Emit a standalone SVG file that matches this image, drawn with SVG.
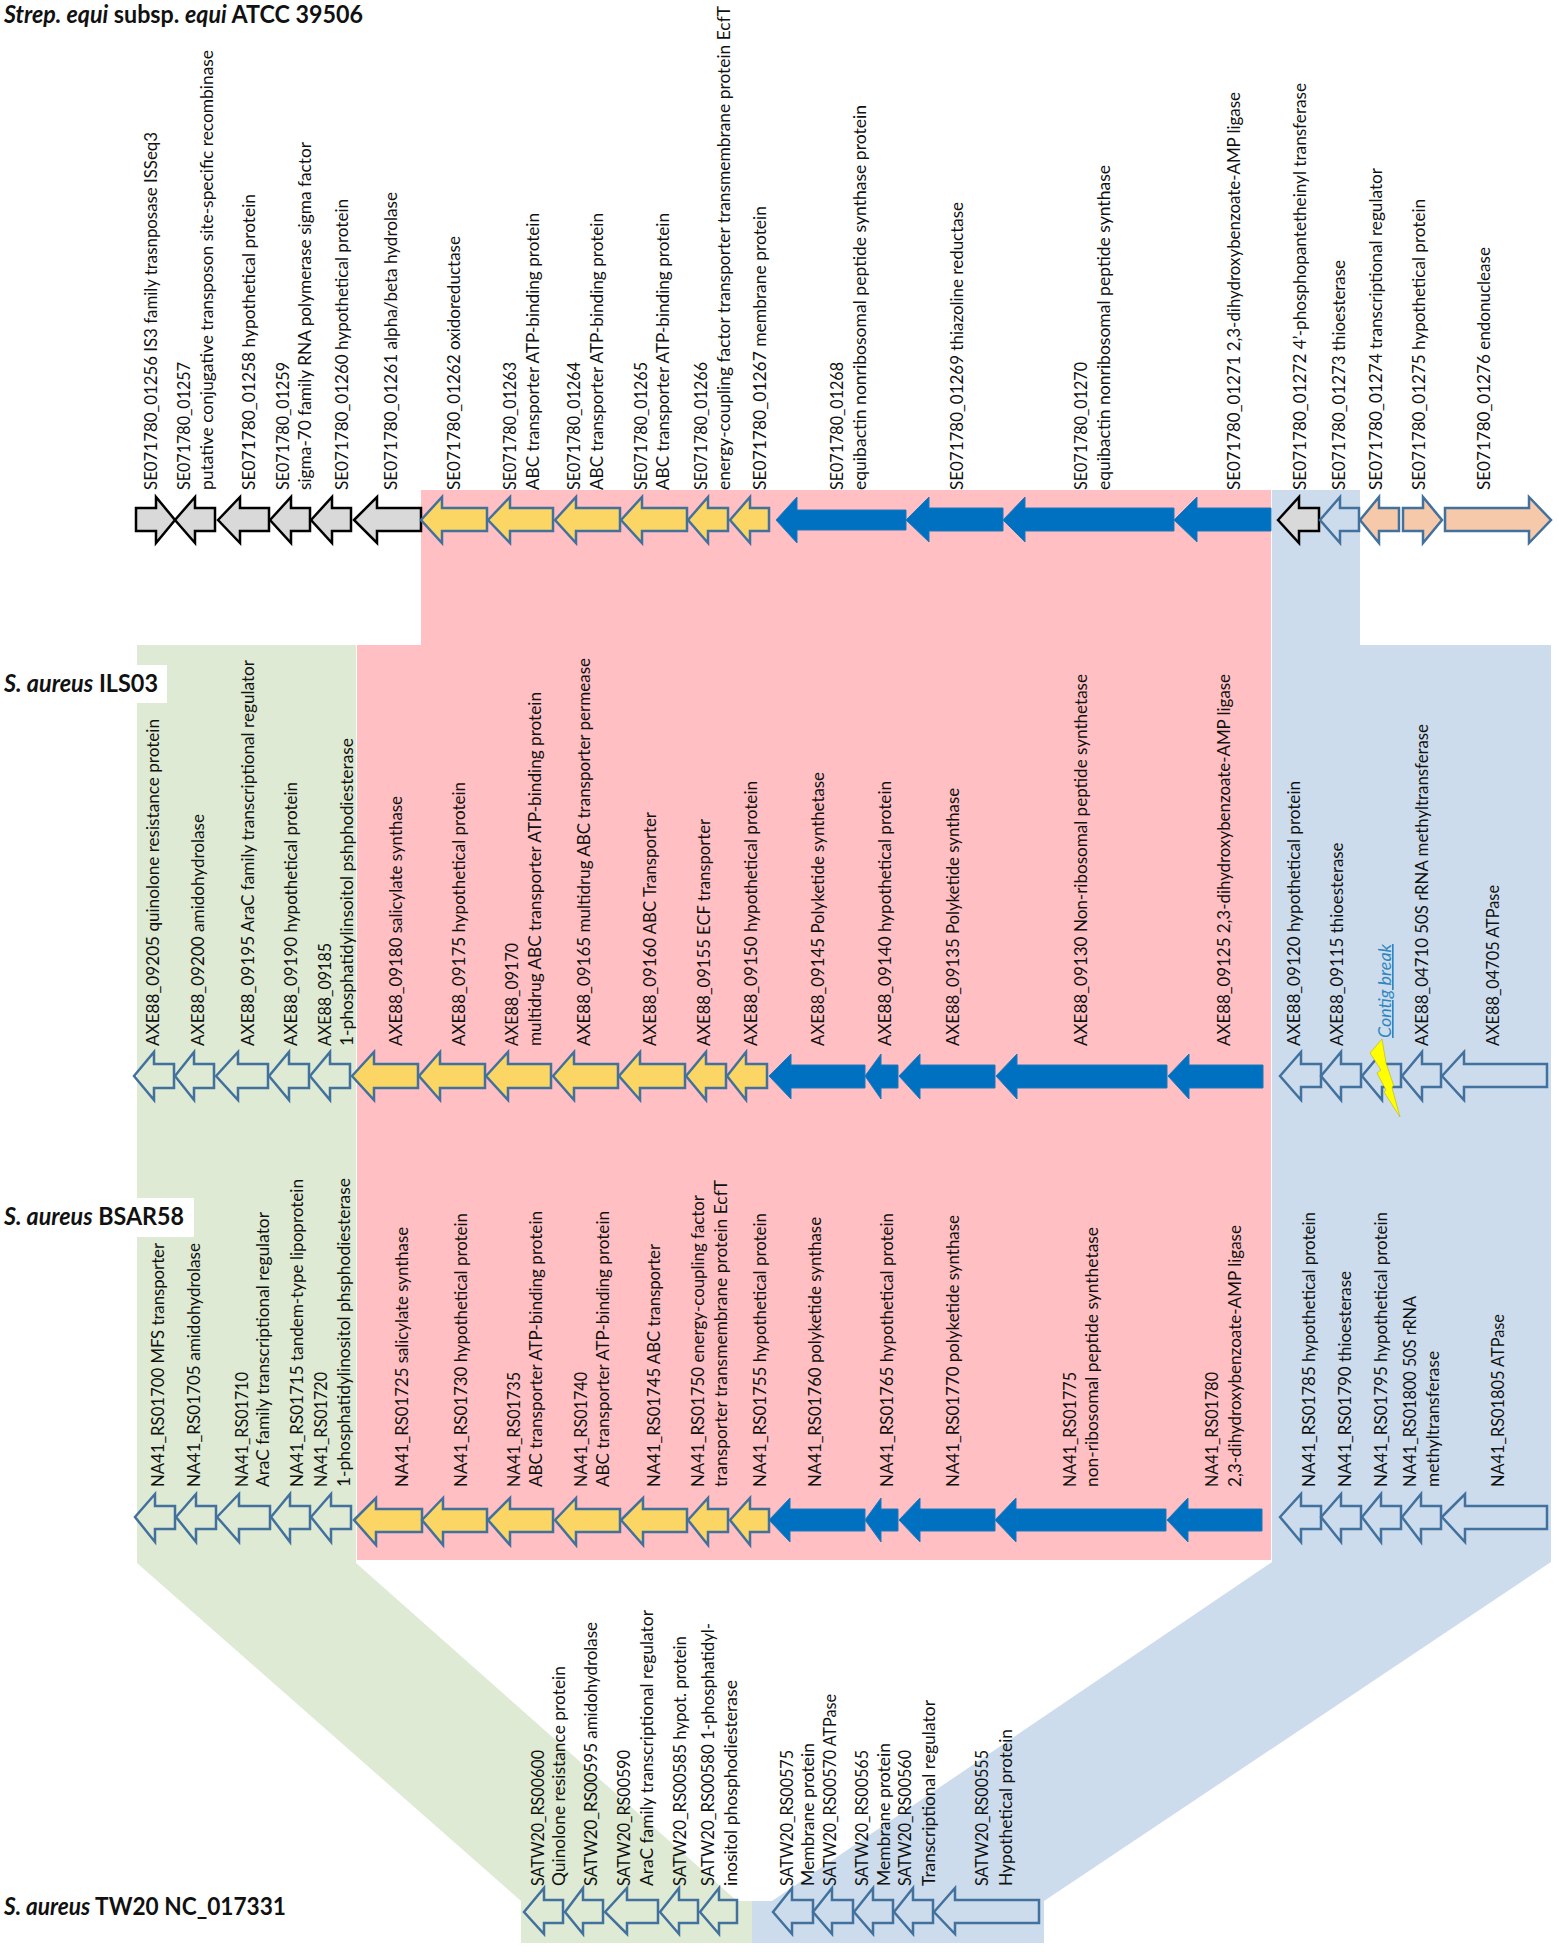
<svg xmlns="http://www.w3.org/2000/svg" width="1559" height="1952" viewBox="0 0 1559 1952">
<style>
text{font-family:Lato,"Liberation Sans",Arial,sans-serif;fill:#111}
.l{font-size:16.5px}
.t{font-size:24px;font-weight:bold}
.i{font-style:italic}
polygon{stroke-linejoin:miter}
.k{fill:#D9D9D9;stroke:#000;stroke-width:2.5}
.y{fill:#FBD665;stroke:#41719C;stroke-width:2.5}
.b{fill:#0070C0;stroke:#1F78BC;stroke-width:1}
.o{fill:none;stroke:#41719C;stroke-width:2.5}
.p{fill:#F5C9A9;stroke:#41719C;stroke-width:2.5}
.c{font-size:16.5px;font-style:italic;fill:#2E86C1;text-decoration:underline}
</style>
<rect width="1559" height="1952" fill="#fff"/>
<g id="connectors">
<polygon fill="#DEEAD3" points="137,645 356,645 356,1563 737,1901 752,1901 752,1943 521,1943 521,1901 137,1563"/>
<polygon fill="#CCDCEC" points="1272,490 1360,490 1360,645 1551,645 1551,1562 1044,1901 1044,1943 752,1943 752,1901 772,1901 1272,1562"/>
<polygon fill="#FFBFC3" points="421,490 1271,490 1271,1560 357,1560 357,645 421,645"/>
</g>
<g id="labels-bg">
<rect x="0" y="665" width="167" height="38" fill="#fff"/>
<rect x="0" y="1198" width="194" height="39" fill="#fff"/>
</g>
<g id="title-strep"><text class="t" x="4" y="23" textLength="359" lengthAdjust="spacingAndGlyphs"><tspan class="i">Strep. equi</tspan> subsp. <tspan class="i">equi</tspan> ATCC 39506</text></g>
<g id="title-ils03"><text class="t" x="4" y="692" textLength="154" lengthAdjust="spacingAndGlyphs"><tspan class="i">S. aureus</tspan> ILS03</text></g>
<g id="title-bsar58"><text class="t" x="4" y="1225" textLength="180" lengthAdjust="spacingAndGlyphs"><tspan class="i">S. aureus</tspan> BSAR58</text></g>
<g id="title-tw20"><text class="t" x="4" y="1915" textLength="282" lengthAdjust="spacingAndGlyphs"><tspan class="i">S. aureus</tspan> TW20 NC_017331</text></g>

<g id="se-01256"><polygon class="k" points="136,508 156,508 156,497 175,520 156,543 156,531 136,531"/><text class="l" transform="translate(157,490) rotate(-90)" textLength="358" lengthAdjust="spacingAndGlyphs">SE071780_01256 IS3 family trasnposase ISSeq3</text></g>
<g id="se-01257"><polygon class="k" points="175,520 195,497 195,508 215,508 215,531 195,531 195,543"/><text class="l" transform="translate(190,490) rotate(-90)" textLength="128" lengthAdjust="spacingAndGlyphs">SE071780_01257</text><text class="l" transform="translate(213,490) rotate(-90)" textLength="440" lengthAdjust="spacingAndGlyphs">putative conjugative transposon site-specific recombinase</text></g>
<g id="se-01258"><polygon class="k" points="218,520 240,497 240,508 269,508 269,531 240,531 240,543"/><text class="l" transform="translate(255,490) rotate(-90)" textLength="296" lengthAdjust="spacingAndGlyphs">SE071780_01258  hypothetical protein</text></g>
<g id="se-01259"><polygon class="k" points="270,520 291,497 291,508 310,508 310,531 291,531 291,543"/><text class="l" transform="translate(289,490) rotate(-90)" textLength="128" lengthAdjust="spacingAndGlyphs">SE071780_01259</text><text class="l" transform="translate(311,490) rotate(-90)" textLength="348" lengthAdjust="spacingAndGlyphs">sigma-70 family RNA polymerase sigma factor</text></g>
<g id="se-01260"><polygon class="k" points="311,520 332,497 332,508 351,508 351,531 332,531 332,543"/><text class="l" transform="translate(348,490) rotate(-90)" textLength="291" lengthAdjust="spacingAndGlyphs">SE071780_01260 hypothetical protein</text></g>
<g id="se-01261"><polygon class="k" points="354,520 377,497 377,508 421,508 421,531 377,531 377,543"/><text class="l" transform="translate(397,490) rotate(-90)" textLength="298" lengthAdjust="spacingAndGlyphs">SE071780_01261 alpha/beta hydrolase</text></g>
<g id="se-01262"><polygon class="y" points="421,520 442,497 442,508 487,508 487,531 442,531 442,543"/><text class="l" transform="translate(460,490) rotate(-90)" textLength="254" lengthAdjust="spacingAndGlyphs">SE071780_01262 oxidoreductase</text></g>
<g id="se-01263"><polygon class="y" points="488,520 510,497 510,508 553,508 553,531 510,531 510,543"/><text class="l" transform="translate(516,490) rotate(-90)" textLength="128" lengthAdjust="spacingAndGlyphs">SE071780_01263</text><text class="l" transform="translate(539,490) rotate(-90)" textLength="277" lengthAdjust="spacingAndGlyphs">ABC transporter ATP-binding protein</text></g>
<g id="se-01264"><polygon class="y" points="555,520 576,497 576,508 620,508 620,531 576,531 576,543"/><text class="l" transform="translate(580,490) rotate(-90)" textLength="128" lengthAdjust="spacingAndGlyphs">SE071780_01264</text><text class="l" transform="translate(602.5,490) rotate(-90)" textLength="277" lengthAdjust="spacingAndGlyphs">ABC transporter ATP-binding protein</text></g>
<g id="se-01265"><polygon class="y" points="621,520 642,497 642,508 687,508 687,531 642,531 642,543"/><text class="l" transform="translate(647,490) rotate(-90)" textLength="128" lengthAdjust="spacingAndGlyphs">SE071780_01265</text><text class="l" transform="translate(669,490) rotate(-90)" textLength="277" lengthAdjust="spacingAndGlyphs">ABC transporter ATP-binding protein</text></g>
<g id="se-01266"><polygon class="y" points="688,520 708,497 708,508 728,508 728,531 708,531 708,543"/><text class="l" transform="translate(707,490) rotate(-90)" textLength="128" lengthAdjust="spacingAndGlyphs">SE071780_01266</text><text class="l" transform="translate(730,490) rotate(-90)" textLength="484" lengthAdjust="spacingAndGlyphs">energy-coupling factor transporter transmembrane protein EcfT</text></g>
<g id="se-01267"><polygon class="y" points="730,520 750,497 750,508 769,508 769,531 750,531 750,543"/><text class="l" transform="translate(766,490) rotate(-90)" textLength="284" lengthAdjust="spacingAndGlyphs">SE071780_01267  membrane protein</text></g>
<g id="se-01268"><polygon class="b" points="776,520 797,497 797,510 906,510 906,530 797,530 797,543"/><text class="l" transform="translate(842.6,490) rotate(-90)" textLength="128" lengthAdjust="spacingAndGlyphs">SE071780_01268</text><text class="l" transform="translate(866,490) rotate(-90)" textLength="385" lengthAdjust="spacingAndGlyphs">equibactin nonribosomal peptide synthase protein</text></g>
<g id="se-01269"><polygon class="b" points="906,520 929,497 929,508 1003,508 1003,531 929,531 929,542"/><text class="l" transform="translate(963,490) rotate(-90)" textLength="288" lengthAdjust="spacingAndGlyphs">SE071780_01269 thiazoline reductase</text></g>
<g id="se-01270"><polygon class="b" points="1003,520 1025,497 1025,508 1174,508 1174,531 1025,531 1025,542"/><text class="l" transform="translate(1087,490) rotate(-90)" textLength="128" lengthAdjust="spacingAndGlyphs">SE071780_01270</text><text class="l" transform="translate(1110,490) rotate(-90)" textLength="325" lengthAdjust="spacingAndGlyphs">equibactin nonribosomal peptide synthase</text></g>
<g id="se-01271"><polygon class="b" points="1174,520 1197,497 1197,508 1271,508 1271,531 1197,531 1197,542"/><text class="l" transform="translate(1240,490) rotate(-90)" textLength="398" lengthAdjust="spacingAndGlyphs">SE071780_01271 2,3-dihydroxybenzoate-AMP ligase</text></g>
<g id="se-01272"><polygon class="k" points="1278,520 1299,497 1299,508 1319,508 1319,531 1299,531 1299,543"/><text class="l" transform="translate(1306,490) rotate(-90)" textLength="407" lengthAdjust="spacingAndGlyphs">SE071780_01272 4’-phosphopantetheinyl transferase</text></g>
<g id="se-01273"><polygon class="o" points="1320,520 1340,497 1340,508 1359,508 1359,531 1340,531 1340,543"/><text class="l" transform="translate(1345,490) rotate(-90)" textLength="230" lengthAdjust="spacingAndGlyphs">SE071780_01273 thioesterase</text></g>
<g id="se-01274"><polygon class="p" points="1360,520 1379,497 1379,508 1399,508 1399,531 1379,531 1379,543"/><text class="l" transform="translate(1382,490) rotate(-90)" textLength="322" lengthAdjust="spacingAndGlyphs">SE071780_01274 transcriptional regulator</text></g>
<g id="se-01275"><polygon class="p" points="1403,508 1423,508 1423,497 1442,520 1423,543 1423,531 1403,531"/><text class="l" transform="translate(1424.5,490) rotate(-90)" textLength="291" lengthAdjust="spacingAndGlyphs">SE071780_01275 hypothetical protein</text></g>
<g id="se-01276"><polygon class="p" points="1445,508 1529,508 1529,497 1551,520 1529,543 1529,531 1445,531"/><text class="l" transform="translate(1490,490) rotate(-90)" textLength="243" lengthAdjust="spacingAndGlyphs">SE071780_01276 endonuclease</text></g>

<g id="axe-09205"><polygon class="o" points="134,1076 154,1052 154,1064 174,1064 174,1088 154,1088 154,1100"/><text class="l" transform="translate(159,1046) rotate(-90)" textLength="327" lengthAdjust="spacingAndGlyphs">AXE88_09205 quinolone resistance protein</text></g>
<g id="axe-09200"><polygon class="o" points="175,1076 194,1052 194,1064 214,1064 214,1088 194,1088 194,1100"/><text class="l" transform="translate(203.5,1046) rotate(-90)" textLength="232" lengthAdjust="spacingAndGlyphs">AXE88_09200 amidohydrolase</text></g>
<g id="axe-09195"><polygon class="o" points="216,1076 238,1052 238,1064 268,1064 268,1088 238,1088 238,1100"/><text class="l" transform="translate(253.6,1046) rotate(-90)" textLength="386" lengthAdjust="spacingAndGlyphs">AXE88_09195 AraC family transcriptional regulator</text></g>
<g id="axe-09190"><polygon class="o" points="269,1076 289,1052 289,1064 309,1064 309,1088 289,1088 289,1100"/><text class="l" transform="translate(296.5,1046) rotate(-90)" textLength="264" lengthAdjust="spacingAndGlyphs">AXE88_09190 hypothetical protein</text></g>
<g id="axe-09185"><polygon class="o" points="310,1076 330,1052 330,1064 350,1064 350,1088 330,1088 330,1100"/><text class="l" transform="translate(331,1046) rotate(-90)" textLength="103" lengthAdjust="spacingAndGlyphs">AXE88_09185</text><text class="l" transform="translate(353,1046) rotate(-90)" textLength="308" lengthAdjust="spacingAndGlyphs">1-phosphatidylinsoitol pshphodiesterase</text></g>
<g id="axe-09180"><polygon class="y" points="352,1076 374,1052 374,1064 418,1064 418,1088 374,1088 374,1100"/><text class="l" transform="translate(401.5,1046) rotate(-90)" textLength="250" lengthAdjust="spacingAndGlyphs">AXE88_09180 salicylate synthase</text></g>
<g id="axe-09175"><polygon class="y" points="419,1076 440,1052 440,1064 485,1064 485,1088 440,1088 440,1100"/><text class="l" transform="translate(465,1046) rotate(-90)" textLength="264" lengthAdjust="spacingAndGlyphs">AXE88_09175 hypothetical protein</text></g>
<g id="axe-09170"><polygon class="y" points="486,1076 508,1052 508,1064 551,1064 551,1088 508,1088 508,1100"/><text class="l" transform="translate(518,1046) rotate(-90)" textLength="103" lengthAdjust="spacingAndGlyphs">AXE88_09170</text><text class="l" transform="translate(541,1046) rotate(-90)" textLength="354" lengthAdjust="spacingAndGlyphs">multidrug ABC transporter ATP-binding protein</text></g>
<g id="axe-09165"><polygon class="y" points="553,1076 574,1052 574,1064 618,1064 618,1088 574,1088 574,1100"/><text class="l" transform="translate(590,1046) rotate(-90)" textLength="388" lengthAdjust="spacingAndGlyphs">AXE88_09165 multidrug ABC transporter permease</text></g>
<g id="axe-09160"><polygon class="y" points="619,1076 640,1052 640,1064 685,1064 685,1088 640,1088 640,1100"/><text class="l" transform="translate(655.6,1046) rotate(-90)" textLength="234" lengthAdjust="spacingAndGlyphs">AXE88_09160 ABC Transporter</text></g>
<g id="axe-09155"><polygon class="y" points="686,1076 706,1052 706,1064 726,1064 726,1088 706,1088 706,1100"/><text class="l" transform="translate(709.7,1046) rotate(-90)" textLength="227" lengthAdjust="spacingAndGlyphs">AXE88_09155 ECF transporter</text></g>
<g id="axe-09150"><polygon class="y" points="727,1076 746,1052 746,1064 767,1064 767,1088 746,1088 746,1100"/><text class="l" transform="translate(757,1046) rotate(-90)" textLength="265" lengthAdjust="spacingAndGlyphs">AXE88_09150 hypothetical protein</text></g>
<g id="axe-09145"><polygon class="b" points="769,1076 791,1054 791,1065 865,1065 865,1088 791,1088 791,1099"/><text class="l" transform="translate(823.7,1046) rotate(-90)" textLength="274" lengthAdjust="spacingAndGlyphs">AXE88_09145 Polyketide synthetase</text></g>
<g id="axe-09140"><polygon class="b" points="865,1076 881,1054 881,1065 898,1065 898,1088 881,1088 881,1099"/><text class="l" transform="translate(891,1046) rotate(-90)" textLength="265" lengthAdjust="spacingAndGlyphs">AXE88_09140 hypothetical protein</text></g>
<g id="axe-09135"><polygon class="b" points="899,1076 920,1054 920,1065 995,1065 995,1088 920,1088 920,1099"/><text class="l" transform="translate(959,1046) rotate(-90)" textLength="258" lengthAdjust="spacingAndGlyphs">AXE88_09135 Polyketide synthase</text></g>
<g id="axe-09130"><polygon class="b" points="996,1076 1017,1054 1017,1065 1167,1065 1167,1088 1017,1088 1017,1099"/><text class="l" transform="translate(1086.7,1046) rotate(-90)" textLength="372" lengthAdjust="spacingAndGlyphs">AXE88_09130 Non-ribosomal peptide synthetase</text></g>
<g id="axe-09125"><polygon class="b" points="1168,1076 1189,1054 1189,1065 1263,1065 1263,1088 1189,1088 1189,1099"/><text class="l" transform="translate(1230,1046) rotate(-90)" textLength="372" lengthAdjust="spacingAndGlyphs">AXE88_09125 2,3-dihydroxybenzoate-AMP ligase</text></g>
<g id="axe-09120"><polygon class="o" points="1280,1076 1301,1052 1301,1064 1321,1064 1321,1087 1301,1087 1301,1100"/><text class="l" transform="translate(1300,1046) rotate(-90)" textLength="265" lengthAdjust="spacingAndGlyphs">AXE88_09120 hypothetical protein</text></g>
<g id="axe-09115"><polygon class="o" points="1321,1076 1341,1052 1341,1064 1361,1064 1361,1087 1341,1087 1341,1100"/><text class="l" transform="translate(1343,1046) rotate(-90)" textLength="203.500" lengthAdjust="spacingAndGlyphs">AXE88_09115 thioesterase</text></g>
<g id="contig-break"><polygon class="o" points="1362,1076 1382,1052 1382,1064 1401,1064 1401,1087 1382,1087 1382,1100"/><polygon fill="#FFFF00" stroke="#A8A800" stroke-width="0.5" points="1382,1039 1370,1053 1381,1070 1377,1073 1386,1090 1384,1092 1400,1117 1392,1088 1393.5,1085 1386,1063"/><text class="c" transform="translate(1391,1038) rotate(-90)" textLength="94" lengthAdjust="spacingAndGlyphs">Contig break</text></g>
<g id="axe-04710"><polygon class="o" points="1402,1076 1422,1052 1422,1064 1441,1064 1441,1087 1422,1087 1422,1100"/><text class="l" transform="translate(1427.7,1046) rotate(-90)" textLength="322" lengthAdjust="spacingAndGlyphs">AXE88_04710 50S rRNA methyltransferase</text></g>
<g id="axe-04705"><polygon class="o" points="1442,1076 1464,1052 1464,1064 1547,1064 1547,1087 1464,1087 1464,1100"/><text class="l" transform="translate(1499,1046) rotate(-90)" textLength="161" lengthAdjust="spacingAndGlyphs">AXE88_04705 ATPase</text></g>

<g id="na41-01700"><polygon class="o" points="135,1517 155,1494 155,1506 175,1506 175,1529 155,1529 155,1542"/><text class="l" transform="translate(164,1487) rotate(-90)" textLength="244" lengthAdjust="spacingAndGlyphs">NA41_RS01700 MFS transporter</text></g>
<g id="na41-01705"><polygon class="o" points="176,1517 196,1494 196,1506 216,1506 216,1529 196,1529 196,1542"/><text class="l" transform="translate(199.5,1487) rotate(-90)" textLength="244" lengthAdjust="spacingAndGlyphs">NA41_RS01705 amidohydrolase</text></g>
<g id="na41-01710"><polygon class="o" points="217,1517 239,1494 239,1506 270,1506 270,1529 239,1529 239,1542"/><text class="l" transform="translate(247.5,1487) rotate(-90)" textLength="115" lengthAdjust="spacingAndGlyphs">NA41_RS01710</text><text class="l" transform="translate(269,1487) rotate(-90)" textLength="275" lengthAdjust="spacingAndGlyphs">AraC family transcriptional regulator</text></g>
<g id="na41-01715"><polygon class="o" points="271,1517 290,1494 290,1506 310,1506 310,1529 290,1529 290,1542"/><text class="l" transform="translate(303,1487) rotate(-90)" textLength="308" lengthAdjust="spacingAndGlyphs">NA41_RS01715 tandem-type lipoprotein</text></g>
<g id="na41-01720"><polygon class="o" points="311,1517 331,1494 331,1506 351,1506 351,1529 331,1529 331,1542"/><text class="l" transform="translate(326.5,1487) rotate(-90)" textLength="115" lengthAdjust="spacingAndGlyphs">NA41_RS01720</text><text class="l" transform="translate(350,1487) rotate(-90)" textLength="309" lengthAdjust="spacingAndGlyphs">1-phosphatidylinositol phsphodiesterase</text></g>
<g id="na41-01725"><polygon class="y" points="354,1520 376,1498 376,1509 422,1509 422,1532 376,1532 376,1545"/><text class="l" transform="translate(407.7,1487) rotate(-90)" textLength="260" lengthAdjust="spacingAndGlyphs">NA41_RS01725 salicylate synthase</text></g>
<g id="na41-01730"><polygon class="y" points="422,1520 443,1498 443,1509 487,1509 487,1532 443,1532 443,1545"/><text class="l" transform="translate(467,1487) rotate(-90)" textLength="274" lengthAdjust="spacingAndGlyphs">NA41_RS01730 hypothetical protein</text></g>
<g id="na41-01735"><polygon class="y" points="488,1520 510,1498 510,1509 553,1509 553,1532 510,1532 510,1545"/><text class="l" transform="translate(520,1487) rotate(-90)" textLength="115" lengthAdjust="spacingAndGlyphs">NA41_RS01735</text><text class="l" transform="translate(542,1487) rotate(-90)" textLength="276" lengthAdjust="spacingAndGlyphs">ABC transporter ATP-binding protein</text></g>
<g id="na41-01740"><polygon class="y" points="555,1520 576,1498 576,1509 620,1509 620,1532 576,1532 576,1545"/><text class="l" transform="translate(587,1487) rotate(-90)" textLength="115" lengthAdjust="spacingAndGlyphs">NA41_RS01740</text><text class="l" transform="translate(608.7,1487) rotate(-90)" textLength="276" lengthAdjust="spacingAndGlyphs">ABC transporter ATP-binding protein</text></g>
<g id="na41-01745"><polygon class="y" points="621,1520 643,1498 643,1509 687,1509 687,1532 643,1532 643,1545"/><text class="l" transform="translate(660,1487) rotate(-90)" textLength="243" lengthAdjust="spacingAndGlyphs">NA41_RS01745 ABC transporter</text></g>
<g id="na41-01750"><polygon class="y" points="688,1520 708,1498 708,1509 728,1509 728,1532 708,1532 708,1545"/><text class="l" transform="translate(704,1487) rotate(-90)" textLength="292" lengthAdjust="spacingAndGlyphs">NA41_RS01750 energy-coupling factor</text><text class="l" transform="translate(727,1487) rotate(-90)" textLength="307" lengthAdjust="spacingAndGlyphs">transporter transmembrane protein EcfT</text></g>
<g id="na41-01755"><polygon class="y" points="730,1520 750,1498 750,1509 769,1509 769,1532 750,1532 750,1545"/><text class="l" transform="translate(766,1487) rotate(-90)" textLength="274" lengthAdjust="spacingAndGlyphs">NA41_RS01755 hypothetical protein</text></g>
<g id="na41-01760"><polygon class="b" points="769,1520 790,1498 790,1509 865,1509 865,1531 790,1531 790,1542"/><text class="l" transform="translate(821,1487) rotate(-90)" textLength="270" lengthAdjust="spacingAndGlyphs">NA41_RS01760 polyketide synthase</text></g>
<g id="na41-01765"><polygon class="b" points="865,1520 881,1498 881,1509 898,1509 898,1531 881,1531 881,1542"/><text class="l" transform="translate(892.500,1487) rotate(-90)" textLength="274" lengthAdjust="spacingAndGlyphs">NA41_RS01765 hypothetical protein</text></g>
<g id="na41-01770"><polygon class="b" points="899,1520 920,1498 920,1509 995,1509 995,1531 920,1531 920,1542"/><text class="l" transform="translate(959,1487) rotate(-90)" textLength="272" lengthAdjust="spacingAndGlyphs">NA41_RS01770 polyketide synthase</text></g>
<g id="na41-01775"><polygon class="b" points="995,1520 1016,1498 1016,1509 1166,1509 1166,1531 1016,1531 1016,1542"/><text class="l" transform="translate(1076,1487) rotate(-90)" textLength="115" lengthAdjust="spacingAndGlyphs">NA41_RS01775</text><text class="l" transform="translate(1098,1487) rotate(-90)" textLength="260" lengthAdjust="spacingAndGlyphs">non-ribosomal peptide synthetase</text></g>
<g id="na41-01780"><polygon class="b" points="1167,1520 1188,1498 1188,1509 1262,1509 1262,1531 1188,1531 1188,1542"/><text class="l" transform="translate(1218,1487) rotate(-90)" textLength="115" lengthAdjust="spacingAndGlyphs">NA41_RS01780</text><text class="l" transform="translate(1240.6,1487) rotate(-90)" textLength="262" lengthAdjust="spacingAndGlyphs">2,3-dihydroxybenzoate-AMP ligase</text></g>
<g id="na41-01785"><polygon class="o" points="1280,1517 1301,1494 1301,1506 1321,1506 1321,1529 1301,1529 1301,1542"/><text class="l" transform="translate(1314.5,1487) rotate(-90)" textLength="275" lengthAdjust="spacingAndGlyphs">NA41_RS01785 hypothetical protein</text></g>
<g id="na41-01790"><polygon class="o" points="1321,1517 1341,1494 1341,1506 1361,1506 1361,1529 1341,1529 1341,1542"/><text class="l" transform="translate(1351,1487) rotate(-90)" textLength="216" lengthAdjust="spacingAndGlyphs">NA41_RS01790 thioesterase</text></g>
<g id="na41-01795"><polygon class="o" points="1362,1517 1381,1494 1381,1506 1401,1506 1401,1529 1381,1529 1381,1542"/><text class="l" transform="translate(1387.4,1487) rotate(-90)" textLength="275" lengthAdjust="spacingAndGlyphs">NA41_RS01795 hypothetical protein</text></g>
<g id="na41-01800"><polygon class="o" points="1402,1517 1421,1494 1421,1506 1441,1506 1441,1529 1421,1529 1421,1542"/><text class="l" transform="translate(1415.5,1487) rotate(-90)" textLength="191" lengthAdjust="spacingAndGlyphs">NA41_RS01800 50S rRNA</text><text class="l" transform="translate(1439,1487) rotate(-90)" textLength="136" lengthAdjust="spacingAndGlyphs">methyltransferase</text></g>
<g id="na41-01805"><polygon class="o" points="1442,1517 1465,1494 1465,1506 1547,1506 1547,1529 1465,1529 1465,1542"/><text class="l" transform="translate(1504,1487) rotate(-90)" textLength="173" lengthAdjust="spacingAndGlyphs">NA41_RS01805 ATPase</text></g>

<g id="satw-00600"><polygon class="o" points="524,1912 544,1888 544,1900 563,1900 563,1923 544,1923 544,1934"/><text class="l" transform="translate(544,1886) rotate(-90)" textLength="136" lengthAdjust="spacingAndGlyphs">SATW20_RS00600</text><text class="l" transform="translate(565,1886) rotate(-90)" textLength="220" lengthAdjust="spacingAndGlyphs">Quinolone resistance protein</text></g>
<g id="satw-00595"><polygon class="o" points="565,1912 583,1888 583,1900 603,1900 603,1923 583,1923 583,1934"/><text class="l" transform="translate(596.5,1886) rotate(-90)" textLength="264" lengthAdjust="spacingAndGlyphs">SATW20_RS00595 amidohydrolase</text></g>
<g id="satw-00590"><polygon class="o" points="605,1912 627,1888 627,1900 658,1900 658,1923 627,1923 627,1934"/><text class="l" transform="translate(630,1886) rotate(-90)" textLength="136" lengthAdjust="spacingAndGlyphs">SATW20_RS00590</text><text class="l" transform="translate(652.6,1886) rotate(-90)" textLength="276" lengthAdjust="spacingAndGlyphs">AraC family transcriptional regulator</text></g>
<g id="satw-00585"><polygon class="o" points="660,1912 679,1888 679,1900 698,1900 698,1923 679,1923 679,1934"/><text class="l" transform="translate(685.6,1886) rotate(-90)" textLength="250" lengthAdjust="spacingAndGlyphs">SATW20_RS00585 hypot. protein</text></g>
<g id="satw-00580"><polygon class="o" points="700,1912 719,1888 719,1900 737,1900 737,1923 719,1923 719,1934"/><text class="l" transform="translate(714.4,1886) rotate(-90)" textLength="263" lengthAdjust="spacingAndGlyphs">SATW20_RS00580 1-phosphatidyl-</text><text class="l" transform="translate(737,1886) rotate(-90)" textLength="206" lengthAdjust="spacingAndGlyphs">inositol phosphodiesterase</text></g>
<g id="satw-00575"><polygon class="o" points="773,1912 792,1888 792,1900 813,1900 813,1923 792,1923 792,1934"/><text class="l" transform="translate(793,1886) rotate(-90)" textLength="136" lengthAdjust="spacingAndGlyphs">SATW20_RS00575</text><text class="l" transform="translate(814,1886) rotate(-90)" textLength="143" lengthAdjust="spacingAndGlyphs">Membrane protein</text></g>
<g id="satw-00570"><polygon class="o" points="813,1912 832,1888 832,1900 853,1900 853,1923 832,1923 832,1934"/><text class="l" transform="translate(836,1886) rotate(-90)" textLength="192" lengthAdjust="spacingAndGlyphs">SATW20_RS00570 ATPase</text></g>
<g id="satw-00565"><polygon class="o" points="854,1912 873,1888 873,1900 893,1900 893,1923 873,1923 873,1934"/><text class="l" transform="translate(868,1886) rotate(-90)" textLength="136" lengthAdjust="spacingAndGlyphs">SATW20_RS00565</text><text class="l" transform="translate(890,1886) rotate(-90)" textLength="143" lengthAdjust="spacingAndGlyphs">Membrane protein</text></g>
<g id="satw-00560"><polygon class="o" points="894,1912 913,1888 913,1900 933,1900 933,1923 913,1923 913,1934"/><text class="l" transform="translate(911,1886) rotate(-90)" textLength="136" lengthAdjust="spacingAndGlyphs">SATW20_RS00560</text><text class="l" transform="translate(934.7,1886) rotate(-90)" textLength="186" lengthAdjust="spacingAndGlyphs">Transcriptional regulator</text></g>
<g id="satw-00555"><polygon class="o" points="934,1912 955,1888 955,1900 1039,1900 1039,1923 955,1923 955,1934"/><text class="l" transform="translate(988,1886) rotate(-90)" textLength="136" lengthAdjust="spacingAndGlyphs">SATW20_RS00555</text><text class="l" transform="translate(1012,1886) rotate(-90)" textLength="157" lengthAdjust="spacingAndGlyphs">Hypothetical protein</text></g>
</svg>
